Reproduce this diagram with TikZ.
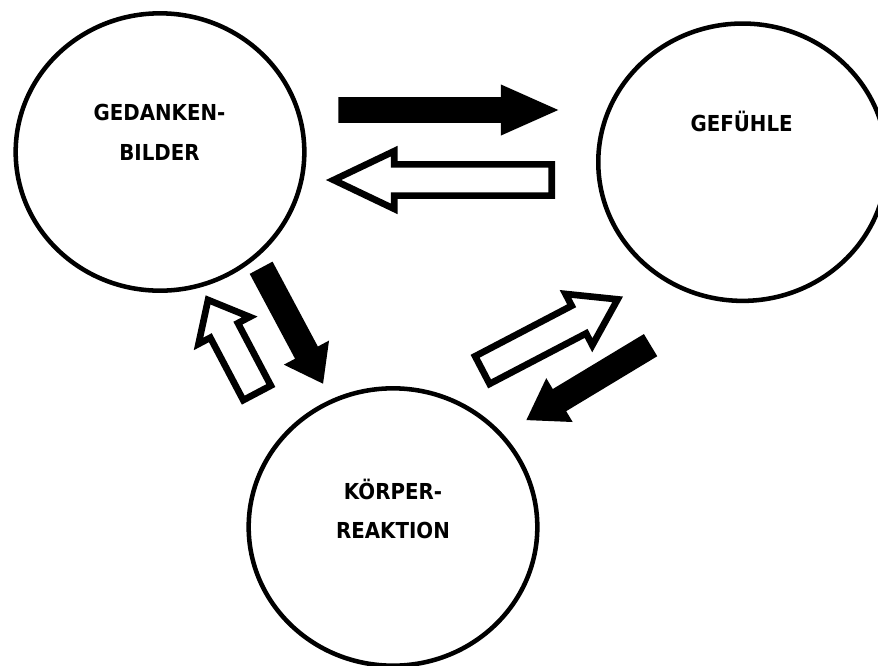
\documentclass[tikz,border=0pt]{standalone}
\usepackage{fontspec}
\newfontfamily\kreisfont{DejaVu Sans}[FakeStretch=0.9]
\usetikzlibrary{positioning,calc,shapes.geometric,shapes.arrows}

\begin{document}
\begin{tikzpicture}[x=0.75pt,y=-0.75pt,
    kreis/.style={ellipse,draw,line width=3.4pt,minimum width=216.5pt,minimum height=208pt,inner sep=0},
    beschriftung/.style={anchor=base,inner sep=0,font=\kreisfont\bfseries\fontsize{16.5pt}{30pt}\selectfont},
    pfeil/.style={single arrow,anchor=tail,inner xsep=0,inner ysep=9.5pt,single arrow head extend=9.5pt},
    vollpfeil/.style={pfeil,fill=black},
    hohlpfeil/.style={pfeil,draw=black,fill=white,line width=5pt,inner ysep=9.2pt,single arrow head extend=10pt}
    ]
    \clip[use as bounding box] (0,0) rectangle (878,665);
    %%% Kreise
    \node[kreis] (gedanken) at (160,152) {};
    \node[kreis] (gefuehle) at (742.6,162.2) {};
    \node[kreis] (koerper) at (393,527) {};
    %%% Beschriftungen
    \node[beschriftung] (gedanken_1) at ($(gedanken)+(-0.5,-31.3)$) {GEDANKEN-};
    \node[beschriftung] (gedanken_2) at ($(gedanken_1.base)+(0,40)$) {BILDER};
    \node[beschriftung] (gefuehle_1) at ($(gefuehle)+(-1,-30.5)$) {GEFÜHLE};
    \node[beschriftung] (koerper_1) at ($(koerper)+(0,-27.7)$) {KÖRPER-};
    \node[beschriftung] (koerper_2) at ($(koerper_1.base)+(0,39)$) {REAKTION};
    %%% Pfeile oben
    \node[vollpfeil,rotate=0,minimum height=165pt,single arrow tip angle=48] (ged_gef) at (338,110) {};
    \node[hohlpfeil,rotate=180,minimum height=163.5pt,single arrow tip angle=51] (gef_ged) at (555,180) {};
    %%% Pfeile links
    \node[vollpfeil,rotate=-61.9,minimum height=98.6pt,single arrow tip angle=72] (ged_koe) at (261,267.5) {};
    \node[hohlpfeil,rotate=117.8,minimum height=78.8pt,single arrow tip angle=80] (koe_ged) at (258.6,395.8) {};
    %%% Pfeile rechts
    \node[hohlpfeil,rotate=27.6,minimum height=114.5pt,single arrow tip angle=67] (koe_gef) at (479.4,371.6) {};
    \node[vollpfeil,rotate=211.1,minimum height=108.8pt,single arrow tip angle=67] (gef_koe) at (650.8,345) {};
\end{tikzpicture}
\end{document}
